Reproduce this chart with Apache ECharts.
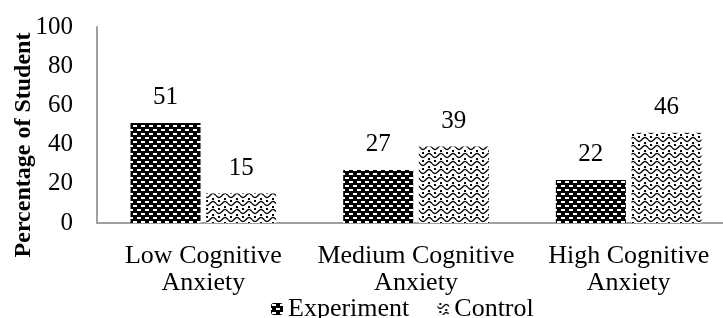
<!DOCTYPE html>
<html>
<head>
<meta charset="utf-8">
<script src="https://cdn.jsdelivr.net/npm/echarts@6/dist/echarts.min.js"></script>
<style>
  html, body { margin: 0; padding: 0; background: #fff; }
  #chart { width: 723px; height: 318px; }
</style>
</head>
<body>
<div id="chart"></div>
<script>
// Data
const categories = ['Low Cognitive Anxiety', 'Medium Cognitive Anxiety', 'High Cognitive Anxiety'];
const experimentValues = [51, 27, 22];
const controlValues = [15, 39, 46];
const yTicks = [0, 20, 40, 60, 80, 100];

const FONT = '"Liberation Serif", "Times New Roman", serif';

// Black tile with rows of small white dashes, staggered
function brickPattern() {
    const c = document.createElement('canvas');
    c.width = 8; c.height = 8;
    const ctx = c.getContext('2d');
    ctx.fillStyle = '#000';
    ctx.fillRect(0, 0, 8, 8);
    ctx.fillStyle = '#fff';
    ctx.fillRect(1, 1, 4, 2);
    ctx.fillRect(5, 5, 3, 2);
    ctx.fillRect(0, 5, 1, 2);
    return c;
}

// White tile with black wavy lines and dots
function wavePattern() {
    const c = document.createElement('canvas');
    c.width = 12; c.height = 8;
    const ctx = c.getContext('2d');
    ctx.fillStyle = '#fff';
    ctx.fillRect(0, 0, 12, 8);
    ctx.strokeStyle = '#000';
    ctx.lineWidth = 1.3;
    ctx.beginPath();
    for (let x = 0; x <= 12; x += 0.5) {
        const y = 3.5 + 2 * Math.sin((x / 6) * Math.PI);
        if (x === 0) ctx.moveTo(x, y); else ctx.lineTo(x, y);
    }
    ctx.stroke();
    ctx.fillStyle = '#000';
    ctx.fillRect(2, 0, 2, 2);
    ctx.fillRect(8, 6, 2, 2);
    return c;
}

const chart = echarts.init(document.getElementById('chart'), null, { renderer: 'canvas' });

const expFill = { image: brickPattern(), repeat: 'repeat' };
const ctlFill = { image: wavePattern(), repeat: 'repeat' };

const labelStyle = {
    show: true, position: 'top', distance: 13,
    fontFamily: FONT, fontSize: 25, color: '#000'
};

const option = {
    backgroundColor: '#fff',
    animation: false,
    textStyle: { fontFamily: FONT, color: '#000' },
    // axis runs past the right edge of the picture in the reference
    grid: { left: 97, width: 638, top: 27, bottom: 95, containLabel: false, outerBoundsMode: 'none' },
    legend: {
        left: 266,
        top: 291,
        itemWidth: 12,
        itemHeight: 12,
        itemGap: 28,
        textStyle: { fontFamily: FONT, fontSize: 26, color: '#000' },
        data: ['Experiment', 'Control']
    },
    xAxis: {
        type: 'category',
        data: categories,
        axisLine: { lineStyle: { color: '#a0a0a0', width: 2 } },
        axisTick: { show: false },
        axisLabel: {
            interval: 0,
            margin: 20,
            fontFamily: FONT,
            fontSize: 26,
            lineHeight: 27,
            color: '#000',
            formatter: v => v.replace(' Anxiety', '\nAnxiety')
        }
    },
    yAxis: {
        type: 'value',
        min: 0,
        max: 100,
        interval: 20,
        axisLine: { show: true, lineStyle: { color: '#a0a0a0', width: 2 } },
        axisTick: { show: false },
        splitLine: { show: false },
        axisLabel: {
            margin: 24,
            fontFamily: FONT,
            fontSize: 25,
            color: '#000',
            formatter: v => yTicks.includes(v) ? String(v) : ''
        }
    },
    graphic: [{
        type: 'text',
        x: 24,
        y: 145,
        rotation: Math.PI / 2,
        style: {
            text: 'Percentage of Student',
            font: 'bold 24px ' + FONT,
            fill: '#000',
            align: 'center',
            verticalAlign: 'middle'
        }
    }],
    series: [
        {
            name: 'Experiment',
            type: 'bar',
            data: experimentValues,
            barWidth: 70,
            barGap: '8%',
            itemStyle: { color: expFill },
            label: labelStyle
        },
        {
            name: 'Control',
            type: 'bar',
            data: controlValues,
            barWidth: 70,
            barGap: '8%',
            itemStyle: { color: ctlFill },
            label: labelStyle
        }
    ]
};

chart.setOption(option);
</script>
</body>
</html>
